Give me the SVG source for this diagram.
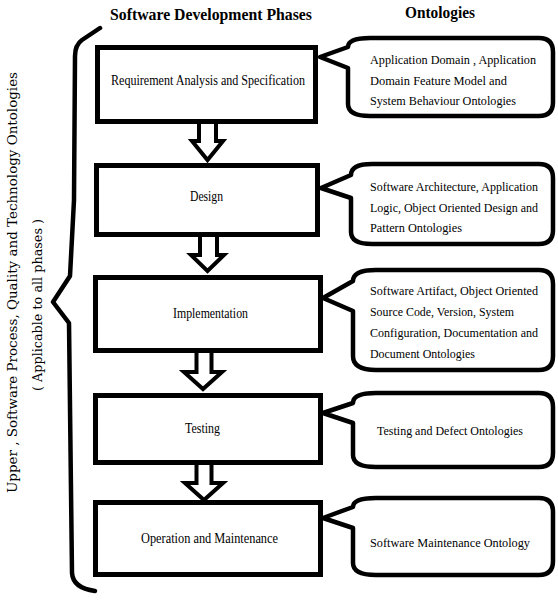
<svg xmlns="http://www.w3.org/2000/svg" width="558" height="600" viewBox="0 0 558 600">
<style>
.box{fill:#fff;stroke:#000;stroke-width:5}
.call{fill:#fff;stroke:#000;stroke-width:4.5;stroke-linejoin:round}
.arr{fill:#fff;stroke:#000;stroke-width:4;stroke-linejoin:miter}
.lbl{font-family:"Liberation Serif","Times New Roman",serif;font-size:15px;fill:#000}
.olbl{font-family:"Liberation Serif","Times New Roman",serif;font-size:13px;fill:#000}
.ttl{font-family:"Liberation Serif","Times New Roman",serif;font-size:17px;font-weight:bold;fill:#000}
.vt{font-family:"DejaVu Serif",serif;font-size:12.5px;fill:#000}
.brace{fill:none;stroke:#000;stroke-width:4.5;stroke-linecap:round;stroke-linejoin:round}
</style>
<rect width="558" height="600" fill="#fff"/>

<g id="titles">
<text class="ttl" x="110" y="20" textLength="202" lengthAdjust="spacingAndGlyphs">Software Development Phases</text>
<text class="ttl" x="405" y="18" textLength="70" lengthAdjust="spacingAndGlyphs">Ontologies</text>
</g>

<g id="brace">
<path class="brace" d="M100,28 L82,40 Q75,45 75,56 L74,200 L70,276 L53,302 L69,323 L72,573 Q73,588 95,591"/>
<text class="vt" transform="translate(17,493) rotate(-90)" textLength="421" lengthAdjust="spacingAndGlyphs">Upper , Software Process, Quality and Technology Ontologies</text>
<text class="vt" transform="translate(42,391) rotate(-90)" textLength="172" lengthAdjust="spacingAndGlyphs">( Applicable to all phases )</text>
</g>

<g id="connectors">
<path class="arr" d="M199,121 L199,141 L192,141 L207.5,160 L223,141 L216,141 L216,121"/>
<path class="arr" d="M200,234 L200,255 L191,255 L207.5,271 L224,255 L217,255 L217,234"/>
<path class="arr" d="M196.5,350 L196.5,372 L184,372 L203,389 L222,372 L211.5,372 L211.5,350"/>
<path class="arr" d="M196.5,462 L196.5,483 L185,483 L204,500 L223,483 L211.5,483 L211.5,462"/>
</g>

<g id="phase-requirement">
<rect class="box" x="97.5" y="47.5" width="218" height="74"/>
<text class="lbl" x="111" y="85" textLength="194" lengthAdjust="spacingAndGlyphs">Requirement Analysis and Specification</text>
</g>
<g id="phase-design">
<rect class="box" x="96.5" y="165.5" width="221" height="69"/>
<text class="lbl" x="190" y="201" textLength="33" lengthAdjust="spacingAndGlyphs">Design</text>
</g>
<g id="phase-implementation">
<rect class="box" x="95.5" y="277.5" width="225" height="73"/>
<text class="lbl" x="173" y="318" textLength="75" lengthAdjust="spacingAndGlyphs">Implementation</text>
</g>
<g id="phase-testing">
<rect class="box" x="95.5" y="395.5" width="225" height="67"/>
<text class="lbl" x="185" y="433" textLength="35" lengthAdjust="spacingAndGlyphs">Testing</text>
</g>
<g id="phase-operation">
<rect class="box" x="95.5" y="502.5" width="225" height="72"/>
<text class="lbl" x="141" y="543" textLength="137" lengthAdjust="spacingAndGlyphs">Operation and Maintenance</text>
</g>

<g id="onto-requirement">
<path class="call" d="M320,57 L348,47 Q348,38 370,38 L539,38 Q553,38 553,52 L553,102 Q553,116 539,116 L370,116 Q348,116 348,104 L348,68 Z"/>
<text class="olbl" x="370" y="64" textLength="166" lengthAdjust="spacingAndGlyphs">Application Domain , Application</text>
<text class="olbl" x="370" y="85" textLength="137" lengthAdjust="spacingAndGlyphs">Domain Feature Model and</text>
<text class="olbl" x="370" y="105" textLength="146" lengthAdjust="spacingAndGlyphs">System Behaviour Ontologies</text>
</g>
<g id="onto-design">
<path class="call" d="M321,188 L351,175 Q351,164 372,164 L539,164 Q553,164 553,178 L553,230 Q553,244 539,244 L372,244 Q351,244 351,232 L351,198 Z"/>
<text class="olbl" x="370" y="191" textLength="168" lengthAdjust="spacingAndGlyphs">Software Architecture, Application</text>
<text class="olbl" x="370" y="212" textLength="168" lengthAdjust="spacingAndGlyphs">Logic, Object Oriented Design and</text>
<text class="olbl" x="370" y="232" textLength="92" lengthAdjust="spacingAndGlyphs">Pattern Ontologies</text>
</g>
<g id="onto-implementation">
<path class="call" d="M323,298 L353,281 Q353,270 376,270 L539,270 Q553,270 553,284 L553,356 Q553,370 539,370 L376,370 Q353,370 353,356 L353,311 Z"/>
<text class="olbl" x="370" y="295" textLength="168" lengthAdjust="spacingAndGlyphs">Software Artifact, Object Oriented</text>
<text class="olbl" x="370" y="316" textLength="144" lengthAdjust="spacingAndGlyphs">Source Code, Version, System</text>
<text class="olbl" x="370" y="337" textLength="168" lengthAdjust="spacingAndGlyphs">Configuration, Documentation and</text>
<text class="olbl" x="370" y="358" textLength="105" lengthAdjust="spacingAndGlyphs">Document Ontologies</text>
</g>
<g id="onto-testing">
<path class="call" d="M323,413 L353,403 Q353,393 376,393 L539,393 Q553,393 553,407 L553,453 Q553,467 539,467 L376,467 Q353,467 353,455 L353,423 Z"/>
<text class="olbl" x="377" y="435" textLength="146" lengthAdjust="spacingAndGlyphs">Testing and Defect Ontologies</text>
</g>
<g id="onto-operation">
<path class="call" d="M323,518 L353,507 Q353,498 376,498 L539,498 Q553,498 553,512 L553,561 Q553,575 539,575 L376,575 Q353,575 353,563 L353,528 Z"/>
<text class="olbl" x="370" y="547" textLength="160" lengthAdjust="spacingAndGlyphs">Software Maintenance Ontology</text>
</g>
</svg>
